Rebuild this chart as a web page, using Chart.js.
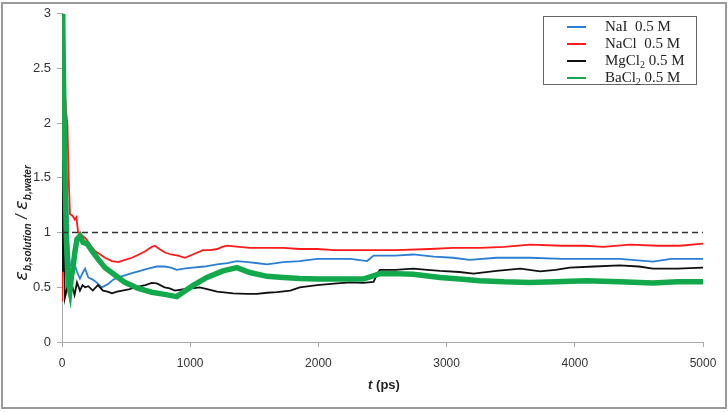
<!DOCTYPE html>
<html>
<head>
<meta charset="utf-8">
<script src="https://cdn.jsdelivr.net/npm/chart.js@4"></script>
<style>
  html, body { margin: 0; padding: 0; background: #fff; }
  #wrap { position: relative; width: 728px; height: 412px; }
  #frame { position: absolute; left: 1px; top: 2px; width: 722px; height: 403px; border: 2px solid #9a9a9a; pointer-events: none; }
  #legend { position: absolute; left: 543px; top: 16px; width: 152px; height: 67px; border: 1.5px solid #666; background: #fff;
            font-family: "Liberation Serif", "Times New Roman", serif; font-size: 15px; color: #222; }
  .row { position: absolute; left: 0; height: 17px; line-height: 17px; }
  .row i { position: absolute; left: 23px; top: 8px; width: 19px; height: 2px; }
  .row span { position: absolute; left: 61px; white-space: pre; }
  sub { font-size: 10px; vertical-align: -3px; line-height: 0; }
</style>
</head>
<body>
<div id="wrap">
  <canvas id="c" width="728" height="412"></canvas>
  <div id="frame"></div>
  <div id="legend"></div>
</div>
<script>
// t (ps), ratio
const naiPts = [[0,3.0],[8,3.0],[20,2.3],[32,1.6],[40,1.35],[50,0.9],[62,0.71],[86,0.68],[100,0.70],[118,0.64],[140,0.58],[160,0.63],[180,0.67],[205,0.59],[240,0.57],[270,0.545],[310,0.50],[360,0.53],[400,0.57],[435,0.59],[490,0.61],[545,0.63],[610,0.65],[670,0.67],[740,0.69],[800,0.69],[850,0.68],[895,0.66],[950,0.67],[1020,0.68],[1110,0.69],[1210,0.71],[1290,0.72],[1365,0.74],[1450,0.73],[1530,0.72],[1600,0.71],[1725,0.73],[1855,0.74],[1990,0.76],[2100,0.76],[2250,0.76],[2380,0.74],[2430,0.79],[2600,0.79],[2740,0.80],[2900,0.78],[3050,0.77],[3180,0.75],[3390,0.77],[3650,0.77],[3900,0.76],[4100,0.76],[4350,0.76],[4610,0.735],[4750,0.76],[5000,0.76]];
const naclPts = [[0,0.37],[12,2.7],[22,2.3],[32,2.1],[42,2.0],[52,1.5],[62,1.17],[85,1.15],[100,1.12],[112,1.14],[125,1.01],[150,0.98],[190,0.94],[225,0.88],[260,0.83],[300,0.80],[335,0.77],[390,0.74],[440,0.73],[490,0.75],[545,0.77],[600,0.80],[650,0.83],[700,0.87],[725,0.88],[760,0.85],[800,0.82],[850,0.80],[905,0.79],[960,0.77],[1020,0.80],[1100,0.84],[1160,0.84],[1210,0.85],[1250,0.87],[1290,0.88],[1380,0.87],[1465,0.86],[1600,0.86],[1725,0.86],[1850,0.85],[1990,0.85],[2120,0.84],[2250,0.84],[2400,0.84],[2600,0.84],[2870,0.85],[3050,0.86],[3260,0.86],[3450,0.87],[3650,0.89],[3900,0.88],[4080,0.88],[4220,0.87],[4430,0.89],[4650,0.88],[4820,0.88],[5000,0.90]];
const mgcl2Pts = [[0,0.65],[5,2.0],[14,0.9],[22,0.40],[32,0.45],[45,0.53],[62,0.41],[80,0.51],[98,0.43],[117,0.545],[140,0.47],[160,0.52],[180,0.50],[205,0.51],[240,0.47],[280,0.52],[320,0.47],[355,0.46],[390,0.445],[430,0.46],[470,0.47],[520,0.48],[570,0.50],[650,0.52],[700,0.54],[740,0.535],[800,0.50],[840,0.49],[880,0.47],[940,0.48],[1010,0.49],[1075,0.50],[1140,0.48],[1210,0.46],[1335,0.445],[1440,0.44],[1520,0.44],[1600,0.45],[1675,0.455],[1780,0.47],[1855,0.50],[1990,0.52],[2145,0.535],[2250,0.545],[2350,0.54],[2430,0.55],[2465,0.635],[2480,0.66],[2600,0.66],[2740,0.67],[2850,0.66],[2950,0.65],[3100,0.64],[3210,0.625],[3390,0.65],[3575,0.67],[3730,0.645],[3850,0.66],[3960,0.68],[4150,0.69],[4350,0.70],[4500,0.69],[4610,0.67],[4800,0.67],[5000,0.68]];
const bacl2Pts = [[0,3.0],[6,2.9],[14,2.2],[24,1.5],[34,0.95],[44,0.65],[52,0.53],[62,0.47],[74,0.6],[86,0.68],[100,0.82],[117,0.94],[140,0.97],[165,0.91],[195,0.90],[235,0.83],[280,0.76],[335,0.68],[415,0.61],[490,0.545],[595,0.49],[700,0.455],[800,0.435],[895,0.415],[945,0.455],[1020,0.515],[1130,0.59],[1255,0.65],[1365,0.68],[1465,0.635],[1600,0.60],[1725,0.59],[1855,0.58],[1990,0.575],[2195,0.575],[2350,0.575],[2480,0.625],[2600,0.625],[2740,0.62],[2950,0.59],[3100,0.575],[3260,0.56],[3450,0.55],[3650,0.545],[3850,0.55],[4090,0.56],[4350,0.55],[4610,0.54],[4800,0.55],[5000,0.55]];
const refPts = [[0,1],[5000,1]];

const seriesNames = ["NaI  0.5 M", "NaCl  0.5 M", "MgCl<sub>2</sub> 0.5 M", "BaCl<sub>2</sub> 0.5 M"];
const seriesColors = ["#2a7fd4", "#ff1a1a", "#111111", "#12a84c"];
const xTicks = [0, 1000, 2000, 3000, 4000, 5000];
const yTicks = [0, 0.5, 1, 1.5, 2, 2.5, 3];

const toXY = pts => pts.map(p => ({ x: p[0], y: p[1] }));

// html legend
const leg = document.getElementById("legend");
seriesNames.forEach((n, i) => {
  const r = document.createElement("div");
  r.className = "row";
  r.style.top = (1 + i * 17) + "px";
  r.innerHTML = `<i style="background:${seriesColors[i]}"></i><span>${n}</span>`;
  leg.appendChild(r);
});

const titles = {
  id: "titles",
  afterDraw(chart) {
    const g = chart.ctx;
    g.save();
    g.translate(21, 223);
    g.rotate(-Math.PI / 2);
    g.fillStyle = "#222";
    g.textBaseline = "alphabetic";
    const parts = [
      ["italic 18px 'DejaVu Sans'", "ε", 0],
      ["bold italic 10px 'Liberation Sans'", "b,solution", 4],
      ["italic 16px 'Liberation Sans'", " / ", 0],
      ["italic 18px 'DejaVu Sans'", "ε", 0],
      ["bold italic 10px 'Liberation Sans'", "b,water", 4]
    ];
    let w = 0;
    parts.forEach(p => { g.font = p[0]; w += g.measureText(p[1]).width; });
    let x = -w / 2;
    parts.forEach(p => { g.font = p[0]; g.fillText(p[1], x, 6 + p[2]); x += g.measureText(p[1]).width; });
    g.restore();

    // x title
    g.save();
    g.fillStyle = "#222";
    g.textBaseline = "middle";
    const fi = "bold italic 13px 'Liberation Sans'", fb = "bold 13px 'Liberation Sans'";
    g.font = fi; const wa = g.measureText("t").width;
    g.font = fb; const wb = g.measureText(" (ps)").width;
    const sx = 384 - (wa + wb) / 2;
    g.font = fi; g.fillText("t", sx, 385);
    g.font = fb; g.fillText(" (ps)", sx + wa, 385);
    g.restore();
  }
};

const line = (pts, color, width) => ({
  data: toXY(pts), borderColor: color, borderWidth: width, pointRadius: 0, tension: 0, fill: false, showLine: true
});

new Chart(document.getElementById("c"), {
  type: "scatter",
  data: {
    datasets: [
      Object.assign(line(refPts, "#333", 1.5), { borderDash: [6, 4] }),
      line(bacl2Pts, seriesColors[3], 5.5),
      line(mgcl2Pts, seriesColors[2], 1.8),
      line(naiPts, seriesColors[0], 1.8),
      line(naclPts, seriesColors[1], 1.8)
    ]
  },
  options: {
    responsive: false,
    animation: false,
    events: [],
    layout: { padding: { left: 0, right: 25, top: 11, bottom: 0 } },
    plugins: { legend: { display: false }, tooltip: { enabled: false } },
    scales: {
      x: {
        type: "linear", min: 0, max: 5000,
        afterBuildTicks: s => { s.ticks = xTicks.map(v => ({ value: v })); },
        afterFit: s => { s.height = 70; },
        grid: { drawOnChartArea: false, tickLength: 5, color: "#aaa" },
        border: { color: "#aaa", width: 1 },
        ticks: { color: "#333", font: { family: "Liberation Sans", size: 12 }, padding: 9, maxRotation: 0, callback: v => String(v) }
      },
      y: {
        min: 0, max: 3,
        afterBuildTicks: s => { s.ticks = yTicks.map(v => ({ value: v })); },
        afterFit: s => { s.width = 62; },
        grid: { drawOnChartArea: false, tickLength: 5, color: "#aaa" },
        border: { color: "#aaa", width: 1 },
        ticks: { color: "#333", font: { family: "Liberation Sans", size: 13 }, padding: 6, callback: v => String(v) }
      }
    }
  },
  plugins: [titles]
});
</script>
</body>
</html>
